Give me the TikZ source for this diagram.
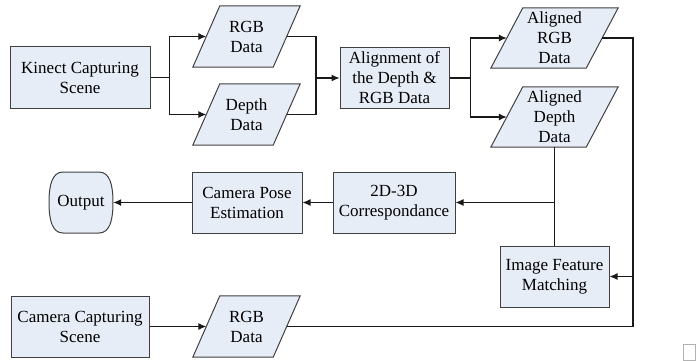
\documentclass[tikz,border=0pt]{standalone}
\usepackage{fontspec}
\setmainfont{Liberation Serif}
\usetikzlibrary{arrows.meta,calc,backgrounds}
\definecolor{boxfill}{HTML}{E7EDF6}
\definecolor{boxline}{HTML}{404040}
\tikzset{
  every node/.style={font=\fontsize{17pt}{20pt}\selectfont, align=center, inner sep=0pt},
  procbox/.style={draw=boxline, fill=boxfill, line width=1pt, minimum height=61pt},
  databox/.style={minimum height=61pt},
  termbox/.style={minimum height=61pt, minimum width=64pt},
  conn/.style={line width=1.1pt, draw=black!90},
  arr/.style={conn, -{Latex[length=8pt,width=7pt]}},
  paraline/.style={draw=boxline, fill=boxfill, line width=1pt}
}
\newcommand\paragram[2]{\filldraw[paraline] ($(#1.north west)+(#2pt,0)$) -- (#1.north east) -- ($(#1.south east)-(#2pt,0)$) -- (#1.south west) -- cycle;}
\begin{document}
\begin{tikzpicture}[x=1pt,y=-1pt]
\useasboundingbox (0,0) rectangle (696,361);
% nodes
\node[procbox, minimum width=140pt] (kinect) at (80,77.5) {Kinect Capturing\\Scene};
\node[databox, minimum width=107pt] (rgb1) at (246.5,36.5) {RGB\\Data};
\node[databox, minimum width=107pt] (depth1) at (246.5,114.5) {Depth\\Data};
\node[procbox, minimum width=109pt, minimum height=60pt] (align) at (394.5,78) {Alignment of\\the Depth \&\\RGB Data};
\node[databox, minimum width=127pt, minimum height=60pt] (argb) at (554.5,38) {Aligned\\RGB\\Data};
\node[databox, minimum width=127pt, minimum height=60pt] (adepth) at (554.5,117) {Aligned\\Depth\\Data};
\node[procbox, minimum width=122pt] (corr) at (394,202.5) {2D-3D\\Correspondance};
\node[procbox, minimum width=110pt] (pose) at (247,202.5) {Camera Pose\\Estimation};
\node[termbox] (output) at (81,202.5) {Output};
\node[procbox, minimum width=109pt] (ifm) at (554.5,276.5) {Image Feature\\Matching};
\node[procbox, minimum width=138pt] (cam) at (80,326.5) {Camera Capturing\\Scene};
\node[databox, minimum width=107pt] (rgb2) at (246.5,326.5) {RGB\\Data};
\begin{scope}[on background layer]
\paragram{rgb1}{27}
\paragram{depth1}{27}
\paragram{argb}{32}
\paragram{adepth}{32}
\paragram{rgb2}{27}
\filldraw[paraline] ($(output.center)+(-18,-30.5)$) -- ($(output.center)+(18,-30.5)$)
  .. controls ($(output.center)+(29,-30.5)$) and ($(output.center)+(32,-17)$) .. ($(output.center)+(32,0)$)
  .. controls ($(output.center)+(32,17)$) and ($(output.center)+(29,30.5)$) .. ($(output.center)+(18,30.5)$)
  -- ($(output.center)+(-18,30.5)$)
  .. controls ($(output.center)+(-29,30.5)$) and ($(output.center)+(-32,17)$) .. ($(output.center)+(-32,0)$)
  .. controls ($(output.center)+(-32,-17)$) and ($(output.center)+(-29,-30.5)$) .. cycle;
\end{scope}
% coordinates
\coordinate (f1) at ($(kinect.east)+(19,0)$);
\coordinate (j1) at (316,78);
\coordinate (f2) at ($(align.east)+(21,0)$);
\coordinate (r1) at (633,38);
\coordinate (r2) at (r1 |- rgb2.east);
% connectors
\draw[conn] (kinect.east) -- (f1);
\draw[arr] (f1) |- ($(rgb1.west)+(13.5,0)$);
\draw[arr] (f1) |- ($(depth1.west)+(13.5,0)$);
\draw[conn] ($(rgb1.east)-(13.5,0)$) -| (j1);
\draw[conn] ($(depth1.east)-(13.5,0)$) -| (j1);
\draw[arr] (j1) -- (align.west);
\draw[conn] (align.east) -- (f2);
\draw[arr] (f2) |- ($(argb.west)+(16,0)$);
\draw[arr] (f2) |- ($(adepth.west)+(16,0)$);
\draw[conn] ($(argb.east)-(16,0)$) -- (r1) -- (r2) -- ($(rgb2.east)-(13.5,0)$);
\draw[arr] (r1 |- ifm.east) -- (ifm.east);
\draw[conn] (adepth.south) -- (ifm.north);
\draw[arr] (adepth.south |- corr.east) -- (corr.east);
\draw[arr] (corr.west) -- (pose.east);
\draw[arr] (pose.west) -- (output.east);
\draw[arr] (cam.east) -- ($(rgb2.west)+(13.5,0)$);
% small square artifact
\draw[gray!60, fill=white, line width=0.8pt] (683.5,344) rectangle (695.5,360);
\end{tikzpicture}
\end{document}
